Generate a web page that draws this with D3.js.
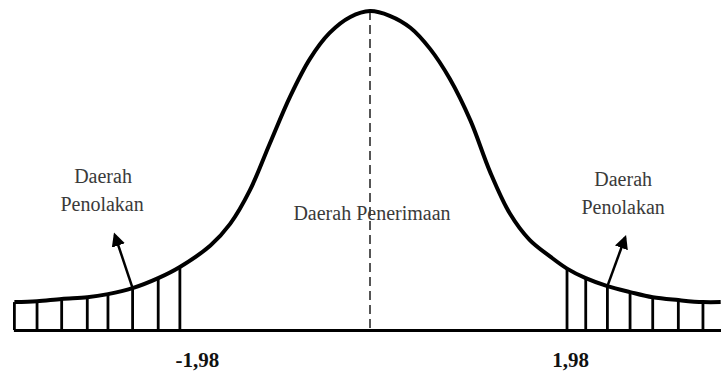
<!DOCTYPE html>
<html>
<head>
<meta charset="utf-8">
<script src="https://cdn.jsdelivr.net/npm/d3@7"></script>
<style>
  body { margin: 0; background: #fff; }
  svg { display: block; }
  .lbl { font-family: "Liberation Serif", "DejaVu Serif", serif; font-size: 20px; fill: #3a3a3a; }
</style>
</head>
<body>
<svg id="chart" width="721" height="372"></svg>
<script>
// bell curve (z units, relative height)
const curveZ = [-3.61, -3.38, -3.13, -2.87, -2.66, -2.41, -2.15, -1.93, -1.62, -1.42, -1.22, -1.02, -0.81, -0.61, -0.41, -0.20, 0,
                0.20, 0.41, 0.61, 0.81, 1.02, 1.22, 1.42, 1.62, 1.83, 2.00, 2.19, 2.41, 2.64, 2.87, 3.13, 3.38, 3.56];
const curveY = [0.035, 0.036, 0.039, 0.041, 0.045, 0.0525, 0.065, 0.079, 0.106, 0.133, 0.175, 0.233, 0.293, 0.340, 0.3725, 0.3925, 0.400,
                0.394, 0.379, 0.3525, 0.315, 0.2625, 0.198, 0.146, 0.113, 0.092, 0.077, 0.065, 0.055, 0.0475, 0.041, 0.0375, 0.035, 0.035];

// rejection region hatching
const hatchZ = [-3.61, -3.38, -3.13, -2.87, -2.66, -2.41, -2.15, -1.93, 2.00, 2.19, 2.41, 2.64, 2.87, 3.13, 3.38];

const tickValues = [-1.98, 1.98];
const tickLabels = ["-1,98", "1,98"];

const svg = d3.select('#chart');

const x = d3.scaleLinear().domain([-3.62, 3.62]).range([13.4, 726.6]);
const y = d3.scaleLinear().domain([0, 0.4]).range([330, 11]);

const pts = curveZ.map((z, i) => [z, curveY[i]]);
const heightAt = z => curveY[curveZ.indexOf(z)];

// arrowhead
svg.append("defs").append("marker")
    .attr("id", "arrow").attr("viewBox", "0 0 10 10")
    .attr("refX", 8).attr("refY", 5)
    .attr("markerWidth", 5.5).attr("markerHeight", 5.5)
    .attr("orient", "auto")
    .append("path").attr("d", "M0,0 L10,5 L0,10 z").attr("fill", "#000");

// hatching
svg.append("g")
    .selectAll("line")
    .data(hatchZ)
    .join("line")
    .attr("x1", d => x(d)).attr("x2", d => x(d))
    .attr("y1", y(0)).attr("y2", d => y(heightAt(d)))
    .attr("stroke", "#000").attr("stroke-width", 2.8);

// baseline + tick labels
const axis = svg.append("g")
    .attr("transform", `translate(0,${y(0)})`)
    .call(d3.axisBottom(x).tickValues(tickValues).tickSize(0)
        .tickFormat((d, i) => tickLabels[i]));
axis.select(".domain").attr("stroke", "#000").attr("stroke-width", 3);
axis.selectAll(".tick text")
    .attr("y", 37).attr("dy", 0)
    .attr("text-anchor", d => d < 0 ? "start" : "middle")
    .attr("dx", d => d < 0 ? 0 : 5)
    .attr("font-family", "Liberation Serif, serif")
    .attr("font-size", 21).attr("font-weight", "bold").attr("fill", "#111");

// mean line
svg.append("line")
    .attr("x1", x(0)).attr("x2", x(0))
    .attr("y1", y(d3.max(curveY))).attr("y2", y(0))
    .attr("stroke", "#555").attr("stroke-width", 2)
    .attr("stroke-dasharray", "9,5");

// curve
svg.append("path")
    .datum(pts)
    .attr("fill", "none").attr("stroke", "#000").attr("stroke-width", 4)
    .attr("d", d3.line().x(d => x(d[0])).y(d => y(d[1])).curve(d3.curveCatmullRom.alpha(0.5)));

// arrows to the rejection areas
const arrows = [[-2.41, -2.59, 0.119], [2.41, 2.59, 0.116]];
svg.append("g")
    .selectAll("line")
    .data(arrows)
    .join("line")
    .attr("x1", d => x(d[0])).attr("y1", d => y(heightAt(d[0])))
    .attr("x2", d => x(d[1])).attr("y2", d => y(d[2]))
    .attr("stroke", "#000").attr("stroke-width", 2.5)
    .attr("marker-end", "url(#arrow)");

// region labels
const labels = [
    {z: -2.71, v: 0.184, t: "Daerah"}, {z: -2.72, v: 0.149, t: "Penolakan"},
    {z: 2.57, v: 0.181, t: "Daerah"}, {z: 2.57, v: 0.146, t: "Penolakan"},
    {z: 0.02, v: 0.1375, t: "Daerah Penerimaan"}
];
svg.append("g")
    .selectAll("text")
    .data(labels)
    .join("text")
    .attr("class", "lbl")
    .attr("x", d => x(d.z)).attr("y", d => y(d.v))
    .attr("text-anchor", "middle")
    .text(d => d.t);
</script>
</body>
</html>
